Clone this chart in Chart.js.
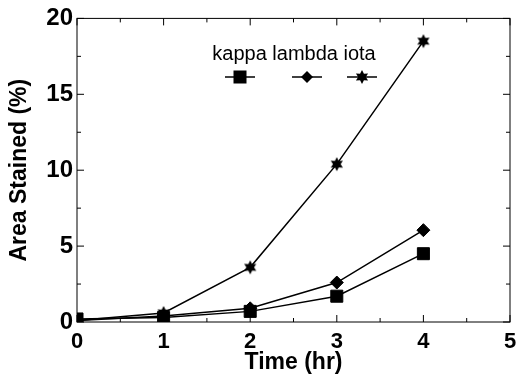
<!DOCTYPE html>
<html lang="en">
<head>
    <meta charset="UTF-8">
    <title>Area Stained</title>
    <style>
        body { margin: 0; background: white; }
        .chart-container { width: 528px; height: 384px; }
    </style>
    <script src="https://cdn.jsdelivr.net/npm/chart.js"></script>
</head>
<body>
    <div class="chart-container">
        <canvas id="stainChart" width="528" height="384"></canvas>
    </div>
    <script>
        // data
        const times = [0, 1, 2, 3, 4];
        const kappa = [0.2, 0.3, 0.7, 1.7, 4.5];
        const lambda = [0.1, 0.4, 0.9, 2.6, 6.05];
        const iota = [0.1, 0.6, 3.6, 10.4, 18.5];
        const xTicks = [0, 1, 2, 3, 4, 5];
        const yTicks = [0, 5, 10, 15, 20];

        const FONT = 'Liberation Sans, Arial, sans-serif';

        // filled six-pointed star for iota
        function makeStar(r) {
            const c = document.createElement('canvas');
            c.width = c.height = r * 2 + 2;
            const ctx = c.getContext('2d');
            ctx.translate(r + 1, r + 1);
            ctx.fillStyle = '#000';
            ctx.beginPath();
            for (let i = 0; i < 12; i++) {
                const a = Math.PI / 6 * i - Math.PI / 2;
                const rad = i % 2 === 0 ? r : r * 0.55;
                ctx.lineTo(Math.cos(a) * rad, Math.sin(a) * rad);
            }
            ctx.closePath();
            ctx.fill();
            return c;
        }
        const starImg = makeStar(7);

        function series(label, data, style, radius) {
            return {
                label: label,
                data: times.map((t, i) => ({ x: t, y: data[i] })),
                borderColor: '#000',
                backgroundColor: '#000',
                borderWidth: 1.5,
                pointStyle: style,
                pointRadius: radius,
                pointBorderWidth: 1,
                fill: false,
                tension: 0
            };
        }

        // frame, inward ticks and the in-plot legend
        const framePlugin = {
            id: 'frame',
            afterDraw(chart) {
                const ctx = chart.ctx;
                const a = chart.chartArea;
                const xs = chart.scales.x, ys = chart.scales.y;
                ctx.save();
                ctx.strokeStyle = '#000';
                ctx.lineWidth = 1;
                ctx.strokeRect(a.left, a.top, a.right - a.left, a.bottom - a.top);
                for (let v = 0; v <= 5; v += 0.5) {
                    const px = xs.getPixelForValue(v);
                    const len = v % 1 === 0 ? 7 : 4;
                    ctx.beginPath();
                    ctx.moveTo(px, a.bottom); ctx.lineTo(px, a.bottom - len);
                    ctx.moveTo(px, a.top); ctx.lineTo(px, a.top + len);
                    ctx.stroke();
                }
                for (let v = 0; v <= 20; v += 2.5) {
                    const py = ys.getPixelForValue(v);
                    const len = v % 5 === 0 ? 7 : 4;
                    ctx.beginPath();
                    ctx.moveTo(a.left, py); ctx.lineTo(a.left + len, py);
                    ctx.moveTo(a.right, py); ctx.lineTo(a.right - len, py);
                    ctx.stroke();
                }

                // legend: one text row, symbols underneath
                ctx.fillStyle = '#000';
                ctx.font = '20px ' + FONT;
                ctx.textAlign = 'center';
                ctx.textBaseline = 'middle';
                ctx.fillText('kappa lambda iota', 294, 54);
                const marks = [
                    { cx: 240, style: 'rect' },
                    { cx: 307, style: 'diamond' },
                    { cx: 362, style: 'star' }
                ];
                marks.forEach(m => {
                    ctx.beginPath();
                    ctx.lineWidth = 1.5;
                    ctx.moveTo(m.cx - 15, 77); ctx.lineTo(m.cx + 15, 77);
                    ctx.stroke();
                    if (m.style === 'rect') {
                        ctx.fillRect(m.cx - 6.5, 70.5, 13, 13);
                    } else if (m.style === 'diamond') {
                        ctx.beginPath();
                        ctx.moveTo(m.cx, 71); ctx.lineTo(m.cx + 6, 77);
                        ctx.lineTo(m.cx, 83); ctx.lineTo(m.cx - 6, 77);
                        ctx.closePath(); ctx.fill();
                    } else {
                        ctx.drawImage(starImg, m.cx - starImg.width / 2, 77 - starImg.height / 2);
                    }
                });
                ctx.restore();
            }
        };

        const stainChart = new Chart(document.getElementById('stainChart'), {
            type: 'line',
            data: {
                datasets: [
                    series('kappa', kappa, 'rect', 8.5),
                    series('lambda', lambda, 'rectRot', 6.5),
                    series('iota', iota, starImg, 7)
                ]
            },
            options: {
                responsive: false,
                animation: false,
                layout: { padding: { top: 6, right: 18, left: 6, bottom: 0 } },
                plugins: {
                    legend: { display: false },
                    tooltip: { enabled: false }
                },
                scales: {
                    x: {
                        type: 'linear',
                        min: 0, max: 5,
                        afterBuildTicks: s => { s.ticks = xTicks.map(v => ({ value: v })); },
                        afterFit: s => { s.height = 62; },
                        grid: { display: false, drawTicks: false },
                        border: { display: false },
                        ticks: {
                            color: '#000',
                            padding: 7,
                            autoSkip: false,
                            maxRotation: 0,
                            font: { size: 22, weight: 'bold', family: FONT }
                        },
                        title: {
                            display: true,
                            text: 'Time (hr)',
                            color: '#000',
                            padding: { top: 0, bottom: 8 },
                            font: { size: 23, weight: 'bold', family: FONT }
                        }
                    },
                    y: {
                        min: 0, max: 20,
                        afterBuildTicks: s => { s.ticks = yTicks.map(v => ({ value: v })); },
                        afterFit: s => { s.width = 71; },
                        grid: { display: false, drawTicks: false },
                        border: { display: false },
                        ticks: {
                            color: '#000',
                            padding: 4,
                            autoSkip: false,
                            font: { size: 24, weight: 'bold', family: FONT }
                        },
                        title: {
                            display: true,
                            text: 'Area Stained (%)',
                            color: '#000',
                            padding: 0,
                            font: { size: 23, weight: 'bold', family: FONT }
                        }
                    }
                }
            },
            plugins: [framePlugin]
        });
    </script>
</body>
</html>
